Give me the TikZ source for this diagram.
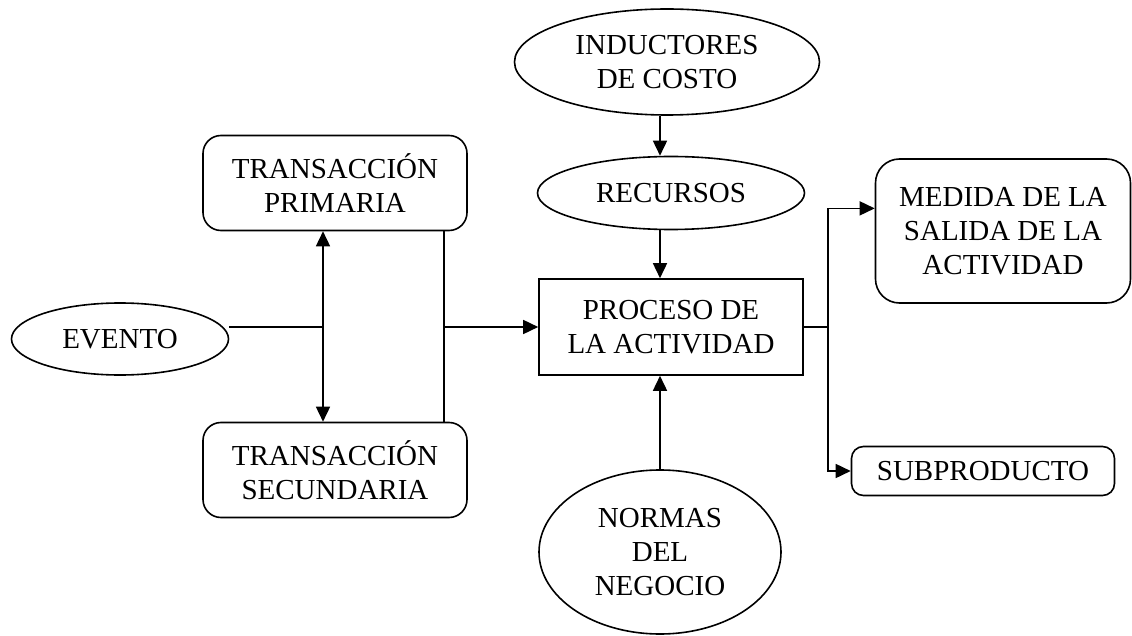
\documentclass[tikz,border=0pt]{standalone}
\usepackage{fontspec}
\setmainfont{Liberation Serif}
\usetikzlibrary{shapes.geometric,arrows.meta}

\begin{document}
\begin{tikzpicture}[x=1pt, y=-1pt, line width=1.6pt,
    every node/.style={font=\fontsize{29}{34}\selectfont, align=center, inner sep=0pt},
    elipse/.style={draw, ellipse},
    caja/.style={draw, rectangle},
    redonda/.style={draw, rectangle, rounded corners=18pt},
    flecha/.style={-{Triangle[length=15pt,width=14pt]}},
    dobleflecha/.style={{Triangle[length=15pt,width=14pt]}-{Triangle[length=15pt,width=14pt]}}]
    \useasboundingbox (0,0) rectangle (1132,636);
    \node[elipse, minimum width=305pt, minimum height=106pt] (costo) at (667,62) {INDUCTORES\\DE COSTO};
    \node[elipse, minimum width=267pt, minimum height=73pt] (recursos) at (671,193) {RECURSOS};
    \node[caja, minimum width=264pt, minimum height=96pt] (proceso) at (671,327) {PROCESO DE\\LA ACTIVIDAD};
    \node[elipse, minimum width=242pt, minimum height=164pt] (normas) at (660,552) {NORMAS\\DEL\\NEGOCIO};
    \node[redonda, minimum width=264pt, minimum height=95pt] (primaria) at (335,183) {TRANSACCIÓN\\PRIMARIA};
    \node[redonda, minimum width=264pt, minimum height=95pt] (secundaria) at (335,470) {TRANSACCIÓN\\SECUNDARIA};
    \node[elipse, minimum width=217pt, minimum height=72pt] (evento) at (120,339) {EVENTO};
    \node[redonda, minimum width=255pt, minimum height=144pt, rounded corners=24pt] (medida) at (1003,231) {MEDIDA DE LA\\SALIDA DE LA\\ACTIVIDAD};
    \node[redonda, minimum width=263pt, minimum height=49pt, rounded corners=12pt] (subproducto) at (983,471) {SUBPRODUCTO};
    \coordinate (eje) at (660,0);
    \coordinate (cruce) at (323,327);
    \coordinate (union) at (444,327);
    \coordinate (reparto) at (828,327);
    \draw[flecha] (eje |- costo.south) -- (eje |- recursos.north);
    \draw[flecha] (eje |- recursos.south) -- (eje |- proceso.north);
    \draw[flecha] (eje |- normas.north) -- (eje |- proceso.south);
    \draw (evento.east |- cruce) -- (cruce);
    \draw[dobleflecha] (cruce |- primaria.south) -- (cruce |- secundaria.north);
    \draw (union |- primaria.south) -- (union |- secundaria.north);
    \draw[flecha] (union) -- (union -| proceso.west);
    \draw (proceso.east |- reparto) -- (reparto);
    \draw[flecha] (reparto) |- (medida.170);
    \draw[flecha] (reparto) |- (subproducto.west);
\end{tikzpicture}
\end{document}
